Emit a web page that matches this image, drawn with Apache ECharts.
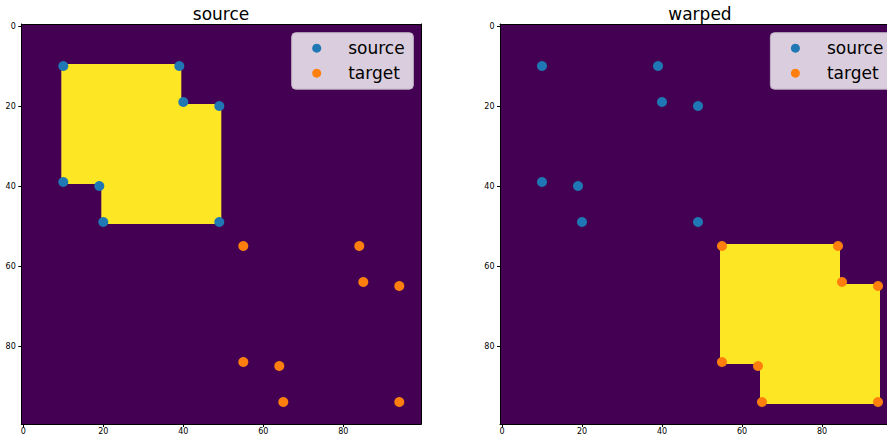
<!DOCTYPE html>
<html>
<head>
<meta charset="utf-8">
<script src="https://cdn.jsdelivr.net/npm/echarts@6/dist/echarts.min.js"></script>
<style>
html,body{margin:0;padding:0;background:#fff;}
#chart{width:887px;height:437px;}
</style>
</head>
<body>
<div id="chart"></div>
<script>
// ---- data ----
const panelTitles = ['source', 'warped'];
const xTicks = [0, 20, 40, 60, 80];
const yTicks = [0, 20, 40, 60, 80];
const imageSize = 100;
// image regions: [colStart, colEnd, rowStart, rowEnd, value]
const sourceImage = [[0, 99, 0, 99, 0], [10, 39, 10, 39, 1], [20, 49, 20, 49, 1]];
const warpedImage = [[0, 99, 0, 99, 0], [55, 84, 55, 84, 1], [65, 94, 65, 94, 1]];
const sourceX = [10, 39, 40, 49, 10, 19, 20, 49];
const sourceY = [10, 10, 19, 20, 39, 40, 49, 49];
const targetX = [55, 84, 85, 94, 55, 64, 65, 94];
const targetY = [55, 55, 64, 65, 84, 85, 94, 94];

// ---- styles ----
const colormap = ['#440154', '#fde725'];
const FONT = 'DejaVu Sans';
const grids = [
  {left: 21.3, top: 24, width: 400, height: 400, outerBoundsMode: 'none', containLabel: false},
  {left: 500, top: 24, width: 400, height: 400, outerBoundsMode: 'none', containLabel: false}
];

const chart = echarts.init(document.getElementById('chart'), null, {renderer: 'svg'});

const xAxes = [], yAxes = [], series = [], legends = [], titles = [];
const images = [sourceImage, warpedImage];
const titleCenters = [221.3, 700];
const titleWidths = [57, 63.4];

grids.forEach((g, i) => {
  const baseX = {
    gridIndex: i, type: 'value', min: -0.5, max: imageSize - 0.5, z: 5,
    splitLine: {show: false},
    axisLine: {show: true, onZero: false, lineStyle: {color: '#000', width: 1}}
  };
  xAxes.push(Object.assign({}, baseX, {
    position: 'bottom',
    axisTick: {show: true, length: 3, customValues: xTicks, lineStyle: {color: '#000'}},
    axisLabel: {show: true, customValues: xTicks, margin: 3.5, fontSize: 8, fontFamily: FONT, color: '#000'}
  }));
  xAxes.push(Object.assign({}, baseX, {
    position: 'top', axisTick: {show: false}, axisLabel: {show: false}
  }));
  const baseY = {
    gridIndex: i, type: 'value', min: -0.5, max: imageSize - 0.5, inverse: true, z: 5,
    splitLine: {show: false},
    axisLine: {show: true, onZero: false, lineStyle: {color: '#000', width: 1}}
  };
  yAxes.push(Object.assign({}, baseY, {
    position: 'left',
    axisTick: {show: true, length: 3, customValues: yTicks, lineStyle: {color: '#000'}},
    axisLabel: {show: true, customValues: yTicks, margin: 5.5, fontSize: 8, fontFamily: FONT, color: '#000'}
  }));
  yAxes.push(Object.assign({}, baseY, {
    position: 'right', axisTick: {show: false}, axisLabel: {show: false}
  }));

  series.push({
    type: 'custom',
    xAxisIndex: 2 * i, yAxisIndex: 2 * i,
    z: 1,
    silent: true,
    data: images[i],
    encode: {x: [0, 1], y: [2, 3]},
    renderItem: function (params, api) {
      const p0 = api.coord([api.value(0) - 0.5, api.value(2) - 0.5]);
      const p1 = api.coord([api.value(1) + 0.5, api.value(3) + 0.5]);
      return {
        type: 'rect',
        shape: {
          x: Math.min(p0[0], p1[0]), y: Math.min(p0[1], p1[1]),
          width: Math.abs(p1[0] - p0[0]), height: Math.abs(p1[1] - p0[1])
        },
        style: {fill: colormap[api.value(4)], stroke: null}
      };
    }
  });
  series.push({
    name: 'source', type: 'scatter', xAxisIndex: 2 * i, yAxisIndex: 2 * i, z: 3,
    symbolSize: 10, itemStyle: {color: '#1f77b4', opacity: 1},
    data: sourceX.map((x, k) => [x, sourceY[k]])
  });
  series.push({
    name: 'target', type: 'scatter', xAxisIndex: 2 * i, yAxisIndex: 2 * i, z: 3,
    symbolSize: 10, itemStyle: {color: '#ff7f0e', opacity: 1},
    data: targetX.map((x, k) => [x, targetY[k]])
  });

  legends.push({
    data: ['source', 'target'],
    orient: 'vertical',
    left: g.left + 270.4, top: 32.7,
    padding: [7, 8.7, 7.5, 20.5],
    itemWidth: 9, itemHeight: 9, itemGap: 8,
    icon: 'circle',
    backgroundColor: 'rgba(218,205,221,1)',
    borderColor: '#bdb0c0', borderWidth: 1, borderRadius: 4,
    selectedMode: false,
    formatter: '{s| }{name}',
    textStyle: {
      fontSize: 17, fontFamily: FONT, color: '#000', lineHeight: 17,
      rich: {s: {width: 22, fontSize: 17, fontFamily: FONT}}
    }
  });

  titles.push({
    text: panelTitles[i],
    left: titleCenters[i] - titleWidths[i] / 2,
    top: 5,
    padding: 0,
    textStyle: {fontSize: 17, fontFamily: FONT, fontWeight: 'normal', color: '#000'}
  });
});

chart.setOption({
  animation: false,
  backgroundColor: '#fff',
  title: titles,
  grid: grids,
  xAxis: xAxes,
  yAxis: yAxes,
  legend: legends,
  series: series
});
</script>
</body>
</html>
